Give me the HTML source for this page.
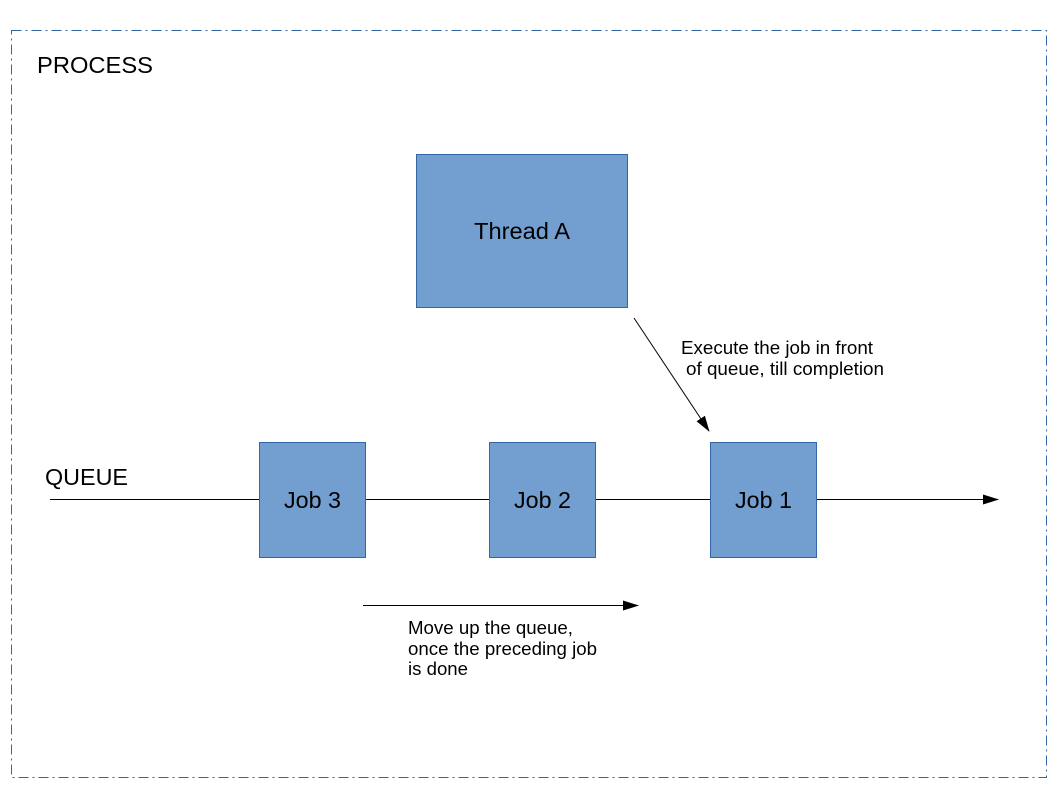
<!DOCTYPE html>
<html><head><meta charset="utf-8"><style>
html,body{margin:0;padding:0;background:#fff;}
svg{display:block;font-family:"Liberation Sans",sans-serif;}
</style></head><body>
<svg width="1058" height="794" viewBox="0 0 1058 794" xmlns="http://www.w3.org/2000/svg">
<defs>
<marker id="a" markerWidth="16" markerHeight="10" refX="15" refY="5" orient="auto" markerUnits="userSpaceOnUse">
<path d="M0,0 L16,5 L0,10 Z" fill="#000"/></marker>
</defs>
<rect x="11.5" y="30.5" width="1035" height="747" fill="none" stroke="#3465a4" stroke-width="1" stroke-dasharray="10,4,2,4"/>
<text x="37" y="73" font-size="23" textLength="116" lengthAdjust="spacingAndGlyphs">PROCESS</text>
<rect x="416.5" y="154.5" width="211" height="153" fill="#729fcf" stroke="#3465a4"/>
<text x="474" y="239" font-size="23" textLength="96" lengthAdjust="spacingAndGlyphs">Thread A</text>
<line x1="634" y1="318" x2="709" y2="431" stroke="#000" stroke-width="1" marker-end="url(#a)"/>
<text font-size="18"><tspan x="681" y="354" textLength="192" lengthAdjust="spacingAndGlyphs">Execute the job in front</tspan><tspan x="686" y="375" textLength="198" lengthAdjust="spacingAndGlyphs">of queue, till completion</tspan></text>
<text x="45" y="485" font-size="23" textLength="83" lengthAdjust="spacingAndGlyphs">QUEUE</text>
<line x1="50" y1="499.5" x2="998" y2="499.5" stroke="#000" stroke-width="1" marker-end="url(#a)"/>
<rect x="259.5" y="442.5" width="106" height="115" fill="#729fcf" stroke="#3465a4"/>
<text x="284" y="508" font-size="23" textLength="57" lengthAdjust="spacingAndGlyphs">Job 3</text>
<rect x="489.5" y="442.5" width="106" height="115" fill="#729fcf" stroke="#3465a4"/>
<text x="514" y="508" font-size="23" textLength="57" lengthAdjust="spacingAndGlyphs">Job 2</text>
<rect x="710.5" y="442.5" width="106" height="115" fill="#729fcf" stroke="#3465a4"/>
<text x="735" y="508" font-size="23" textLength="57" lengthAdjust="spacingAndGlyphs">Job 1</text>
<line x1="363" y1="605.5" x2="638" y2="605.5" stroke="#000" stroke-width="1" marker-end="url(#a)"/>
<text font-size="18"><tspan x="408" y="634" textLength="165" lengthAdjust="spacingAndGlyphs">Move up the queue,</tspan><tspan x="408" y="655" textLength="189" lengthAdjust="spacingAndGlyphs">once the preceding job</tspan><tspan x="408" y="675" textLength="60" lengthAdjust="spacingAndGlyphs">is done</tspan></text>
</svg>
</body></html>
